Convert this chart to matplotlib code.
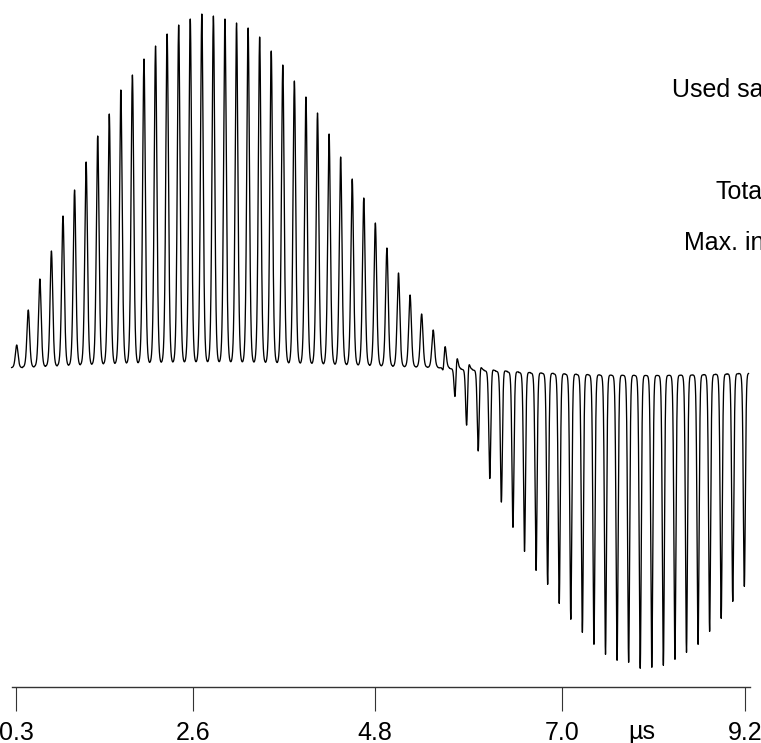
import numpy as np
import matplotlib
matplotlib.use("Agg")
import matplotlib.pyplot as plt

plt.rcParams['font.family'] = ['Liberation Sans', 'DejaVu Sans']

# ---- data ----
# positive pulse heights (signal units, one per period, 64 periods)
pos_amp = [23, 58, 89, 117, 152, 178, 206, 232, 254, 278,
           293, 309, 322, 334, 343, 349, 354, 352, 349, 345,
           340, 331, 317, 303, 287, 271, 255, 234, 211, 189,
           170, 145, 120, 95, 73, 54, 38, 27, 19, 14,
           11, 7, 6, 4, 4, 4, 4, 4, 4, 4,
           4, 4, 4, 4, 4, 4, 4, 4, 4, 4,
           4, 4, 4, 4]
# negative pulse depths (signal units, one per period)
neg_amp = [0] * 37 + [15, 40, 66, 90, 115, 138, 162, 186, 205, 219,
                      238, 254, 267, 279, 289, 295, 297, 303, 302, 300,
                      294, 287, 279, 266, 253, 236, 221]
tick_pos = [0.30, 2.454, 4.679, 6.969, 9.20]
tick_labels = ["0.3", "2.6", "4.8", "7.0", "9.2"]
first_pulse = 0.305      # µs
period = 0.1413          # µs
neg_shift = -0.015       # µs, negative pulse slightly earlier
t_start, t_end = 0.243, 9.243
info_lines = ["Used samples", "Total", "Max. intensity"]

# ---- figure ----
W, H = 761, 743
fig = plt.figure(figsize=(W / 100, H / 100), dpi=100)
ax = fig.add_axes([0, 0, 1, 1])

s = 8.9 / 728.7  # µs per pixel


def pulse(theta, k, eps):
    g = (np.exp(k * (np.cos(theta) - 1)) - np.exp(-2 * k)) / (1 - np.exp(-2 * k))
    return eps + (1 - eps) * g


A = np.array(pos_amp, float)
B = np.array(neg_amp, float)
N = len(A)
t = np.linspace(t_start, t_end, 20000)

n1 = np.clip(np.round((t - first_pulse) / period), 0, N - 1).astype(int)
th1 = 2 * np.pi * (t - first_pulse - n1 * period) / period
n2 = np.clip(np.round((t - first_pulse - neg_shift) / period), 0, N - 1).astype(int)
th2 = 2 * np.pi * (t - first_pulse - neg_shift - n2 * period) / period

y = A[n1] * pulse(th1, 2.0, 0.018) - B[n2] * pulse(th2, 3.5, 0.025)

ax.plot(t, y, color='black', lw=0.95, solid_joinstyle='round')

x0 = 0.3 - 16.3 * s
ax.set_xlim(x0, x0 + W * s)
ax.set_ylim(368 - H, 368)

for sp in ['top', 'right', 'left']:
    ax.spines[sp].set_visible(False)
ax.spines['bottom'].set_position(('data', 368 - 687.3))
ax.spines['bottom'].set_bounds(0.3 - 4.5 * s, 0.3 + (750 - 16.3) * s)
ax.spines['bottom'].set_color('#333333')
ax.spines['bottom'].set_linewidth(1.0)
ax.set_yticks([])
ax.set_xticks(tick_pos)
ax.set_xticklabels(tick_labels)
ax.tick_params(axis='x', direction='out', length=17.3, width=0.8, color='#333333',
               pad=7, labelsize=18)

ax.text(642 / W, 1 - 739 / H, "µs", transform=ax.transAxes, ha='center',
        va='baseline', fontsize=18)

ax.text(672 / W, 1 - 97.3 / H, info_lines[0], transform=ax.transAxes,
        ha='left', va='baseline', fontsize=18, clip_on=False)
ax.text(716 / W, 1 - 199 / H, info_lines[1], transform=ax.transAxes,
        ha='left', va='baseline', fontsize=18, clip_on=False)
ax.text(684 / W, 1 - 250 / H, info_lines[2], transform=ax.transAxes,
        ha='left', va='baseline', fontsize=18, clip_on=False)

fig.savefig("out.png", dpi=100)
